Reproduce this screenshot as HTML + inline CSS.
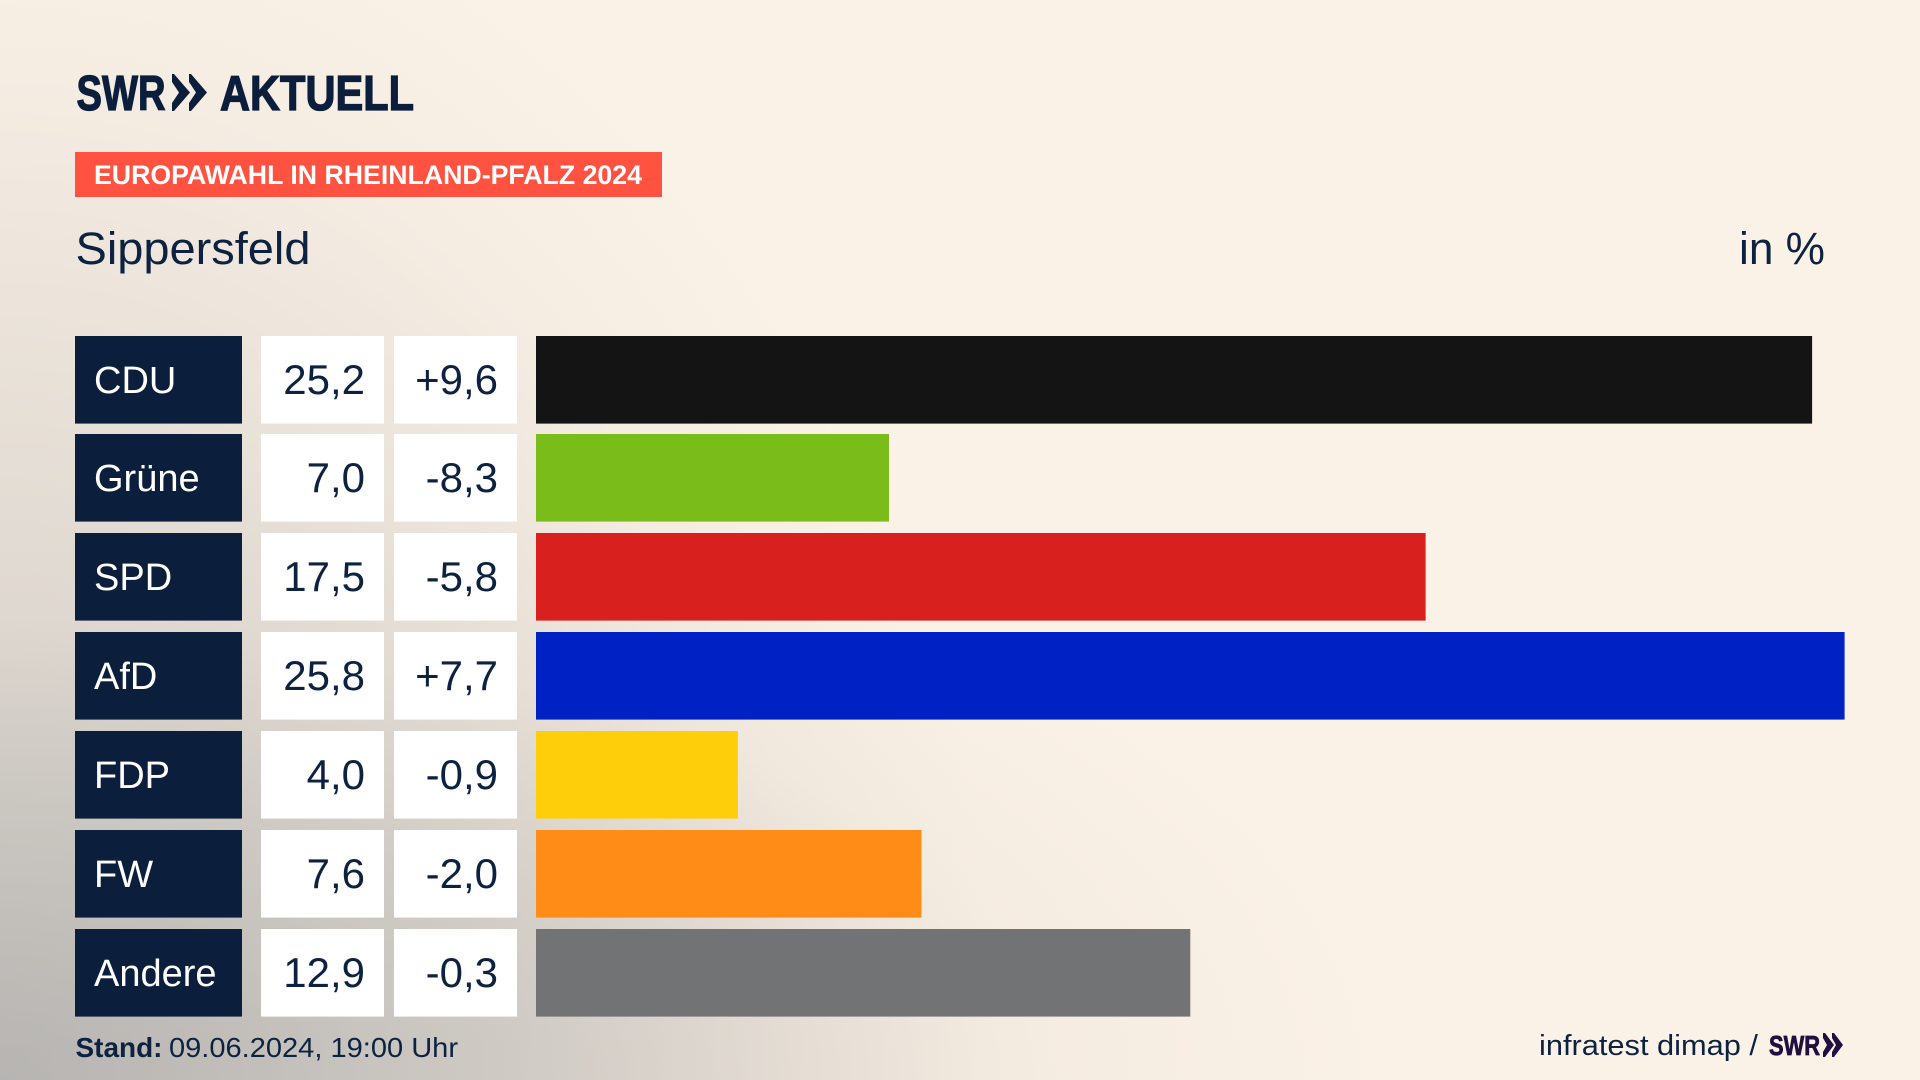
<!DOCTYPE html>
<html lang="de">
<head>
<meta charset="utf-8">
<title>Europawahl in Rheinland-Pfalz 2024 – Sippersfeld</title>
<style>
html,body{margin:0;padding:0;width:1920px;height:1080px;overflow:hidden;background:#fbf2e7}
#stage{position:relative;width:1920px;height:1080px;overflow:hidden;
background:
 radial-gradient(ellipse 1400px 620px at 0 1080px,rgba(155,155,155,.50) 0,rgba(170,168,165,.32) 45%,rgba(215,205,195,.16) 75%,rgba(251,242,231,0) 100%),
 radial-gradient(ellipse 1000px 1250px at 0 1080px,rgba(170,170,170,.50) 0,rgba(190,187,183,.36) 50%,rgba(225,218,210,.24) 80%,rgba(251,242,231,0) 100%),
 #fbf2e7}
svg{position:absolute;left:0;top:0;display:block}
text{font-family:"Liberation Sans",sans-serif;fill:#0d2240}
.label{fill:#fff;font-size:38px}
.num{font-size:42px;text-anchor:end}
.label-box{fill:#0b1f3d}
.cell{fill:#fff}
.heavy{stroke:#0b1f3d;stroke-width:1.3px;fill:#0b1f3d}
.party-0{fill:#141414}.party-1{fill:#7abd1a}.party-2{fill:#d8201e}.party-3{fill:#0022c4}
.party-4{fill:#ffce0a}.party-5{fill:#ff8c17}.party-6{fill:#727374}
</style>
</head>
<body>
<div id="stage">
<svg id="chart" width="1920" height="1080" viewBox="0 0 1920 1080">
  <g>
    <text class="heavy" x="76.5" y="110" font-size="49" font-weight="700" textLength="89" lengthAdjust="spacingAndGlyphs">SWR</text>
    <polygon points="172,74 174,74 190,92.5 174,111 172,111 172,103 179,92.5 172,82" fill="#0b1f3d"/>
    <polygon points="189,74 191,74 207,92.5 191,111 189,111 189,103 196,92.5 189,82" fill="#0b1f3d"/>
    <text class="heavy" x="220" y="110" font-size="49" font-weight="700" textLength="194" lengthAdjust="spacingAndGlyphs">AKTUELL</text>
  </g>
  <rect x="75" y="152" width="587" height="45" fill="#ff5240"/>
  <text x="94" y="184" font-size="27" font-weight="700" textLength="548" lengthAdjust="spacingAndGlyphs" style="fill:#fff">EUROPAWAHL IN RHEINLAND-PFALZ 2024</text>
  <text x="75.5" y="264" font-size="45" textLength="235" lengthAdjust="spacingAndGlyphs">Sippersfeld</text>
  <text x="1739" y="264" font-size="45" textLength="86" lengthAdjust="spacingAndGlyphs">in %</text>
  <g id="rows"></g>
  <text x="75.5" y="1057" font-size="28" font-weight="700" textLength="87" lengthAdjust="spacingAndGlyphs">Stand:</text>
  <text x="169" y="1057" font-size="28" textLength="289" lengthAdjust="spacingAndGlyphs">09.06.2024, 19:00 Uhr</text>
  <text x="1539" y="1055" font-size="29" textLength="219" lengthAdjust="spacingAndGlyphs">infratest dimap /</text>
  <g>
    <text x="1769" y="1055" font-size="28" font-weight="700" textLength="51" lengthAdjust="spacingAndGlyphs" style="fill:#1f1040;stroke:#1f1040;stroke-width:.8px">SWR</text>
    <polygon points="1823,1033 1825,1033 1834,1045 1825,1057 1823,1057 1823,1052 1827,1045 1823,1038" fill="#1f1040"/>
    <polygon points="1832,1033 1834,1033 1843,1045 1834,1057 1832,1057 1832,1052 1836,1045 1832,1038" fill="#1f1040"/>
  </g>
</svg>
</div>
<script>
const parties = ['CDU', 'Grüne', 'SPD', 'AfD', 'FDP', 'FW', 'Andere'];
const shares = [25.16, 6.96, 17.54, 25.8, 3.98, 7.6, 12.9];
const changes = [9.6, -8.3, -5.8, 7.7, -0.9, -2.0, -0.3];

const NS = 'http://www.w3.org/2000/svg';
const rowsGroup = document.getElementById('rows');
const ROW_HEIGHT = 87.6;
function xScale(value) { return 536 + value * 50.72; }
function yScale(index) { return Math.floor(336 + index * 98.84); }
function formatShare(value) { return value.toFixed(1).replace('.', ','); }
function formatChange(value) { return (value > 0 ? '+' : '') + value.toFixed(1).replace('.', ','); }
function makeRect(x, y, w, h, cls) {
  const r = document.createElementNS(NS, 'rect');
  r.setAttribute('x', x);
  r.setAttribute('y', y);
  r.setAttribute('width', w);
  r.setAttribute('height', h);
  r.setAttribute('class', cls);
  rowsGroup.appendChild(r);
  return r;
}
function makeText(x, y, str, cls) {
  const t = document.createElementNS(NS, 'text');
  t.setAttribute('x', x);
  t.setAttribute('y', y);
  t.setAttribute('class', cls);
  t.textContent = str;
  rowsGroup.appendChild(t);
  return t;
}
parties.forEach(function (party, i) {
  const slug = party.toLowerCase();
  const top = yScale(i);

  const labelBox = makeRect(75, top, 167, ROW_HEIGHT, 'label-box');
  
  

  const label = makeText(94, top + 57, party, 'label');
  
  

  const shareCell = makeRect(261, top, 123, ROW_HEIGHT, 'cell');
  
  

  const shareText = makeText(365, top + 58, formatShare(shares[i]), 'num');
  
  

  const changeCell = makeRect(394, top, 123, ROW_HEIGHT, 'cell');
  
  

  const changeText = makeText(498, top + 58, formatChange(changes[i]), 'num');
  
  

  const bar = makeRect(xScale(0), top, xScale(shares[i]) - xScale(0), ROW_HEIGHT, 'party-' + i);
  
  
});
</script>
</body>
</html>
